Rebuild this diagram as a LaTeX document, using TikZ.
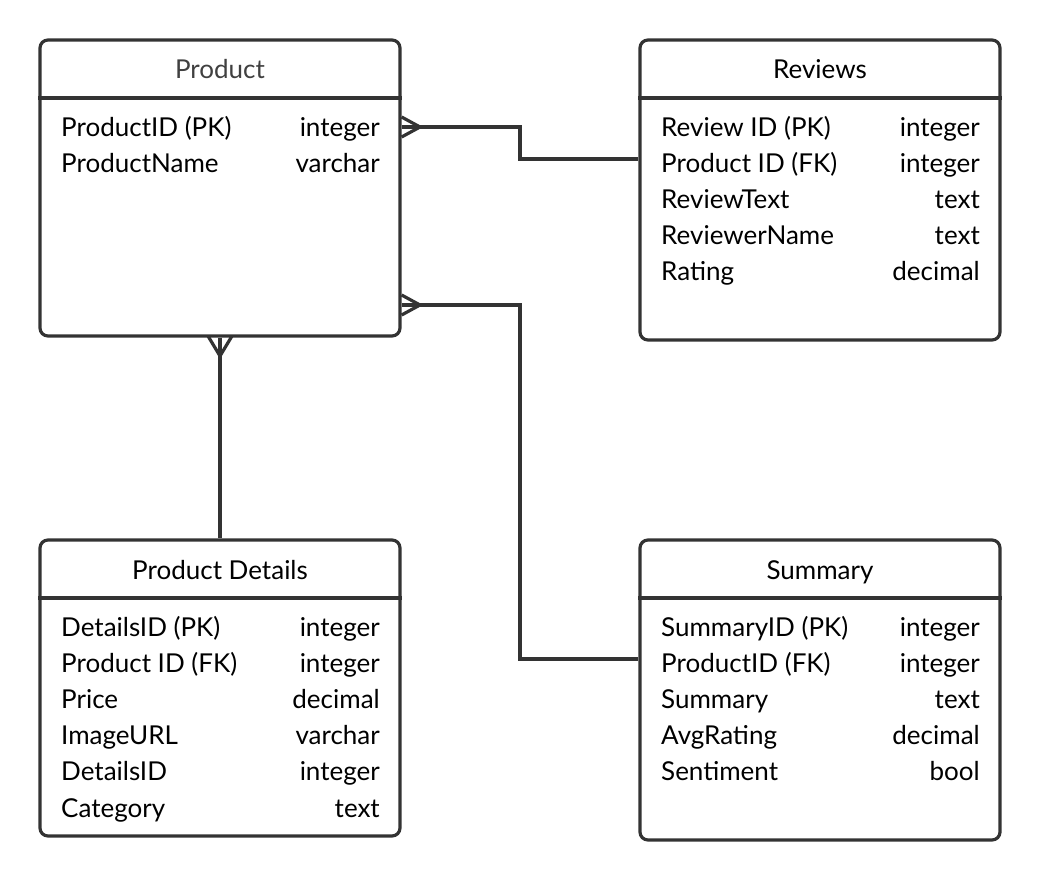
\documentclass[tikz,border=0pt]{standalone}
\usepackage{fontspec}
\setmainfont{Lato}
\definecolor{ln}{HTML}{333333}
\begin{document}
\begin{tikzpicture}[x=1pt,y=-1pt,
  ent/.style={draw=ln,line width=3.2pt,rounded corners=8pt,minimum width=360pt,inner sep=0pt},
  hdr/.style={draw=ln,line width=3.2pt},
  ttl/.style={anchor=base,font=\fontsize{26}{30}\selectfont,text=black,inner sep=0pt},
  lbl/.style={anchor=base west,font=\fontsize{26}{30}\selectfont,text=black,inner sep=0pt},
  typ/.style={anchor=base east,font=\fontsize{26}{30}\selectfont,text=black,inner sep=0pt},
  conn/.style={draw=ln,line width=3.2pt},
  crow/.style={draw=ln,line width=3.2pt}]
\useasboundingbox (0,0) rectangle (1040,880);
% entities
\node[ent,minimum height=296pt] (prod) at (220,188) {};
\node[ent,minimum height=300pt] (rev) at (820,190) {};
\node[ent,minimum height=296pt] (det) at (220,688) {};
\node[ent,minimum height=300pt] (sum) at (820,690) {};
\draw[hdr] (prod.west |- 0,98) -- (prod.east |- 0,98);
\draw[hdr] (rev.west |- 0,98) -- (rev.east |- 0,98);
\draw[hdr] (det.west |- 0,598) -- (det.east |- 0,598);
\draw[hdr] (sum.west |- 0,598) -- (sum.east |- 0,598);
% titles
\node[ttl,text=black!75] (tp) at (220,79) {Product};
\node[ttl] (tr) at (820,79) {Reviews};
\node[ttl] (td) at (220,579) {Product Details};
\node[ttl] (ts) at (820,579) {Summary};
% product rows
\node[lbl] (p1) at (61,136) {ProductID (PK)};
\node[typ] (p1t) at (380,136) {integer};
\node[lbl] (p2) at (61,172) {ProductName};
\node[typ] (p2t) at (380,172) {varchar};
% reviews rows
\node[lbl] (r1) at (661,136) {Review ID (PK)};
\node[typ] (r1t) at (980,136) {integer};
\node[lbl] (r2) at (661,172) {Product ID (FK)};
\node[typ] (r2t) at (980,172) {integer};
\node[lbl] (r3) at (661,208) {ReviewText};
\node[typ] (r3t) at (980,208) {text};
\node[lbl] (r4) at (661,244) {ReviewerName};
\node[typ] (r4t) at (980,244) {text};
\node[lbl] (r5) at (661,280) {Rating};
\node[typ] (r5t) at (980,280) {decimal};
% details rows
\node[lbl] (d1) at (61,636) {DetailsID (PK)};
\node[typ] (d1t) at (380,636) {integer};
\node[lbl] (d2) at (61,672) {Product ID (FK)};
\node[typ] (d2t) at (380,672) {integer};
\node[lbl] (d3) at (61,708) {Price};
\node[typ] (d3t) at (380,708) {decimal};
\node[lbl] (d4) at (61,744) {ImageURL};
\node[typ] (d4t) at (380,744) {varchar};
\node[lbl] (d5) at (61,780) {DetailsID};
\node[typ] (d5t) at (380,780) {integer};
\node[lbl] (d6) at (61,817) {Category};
\node[typ] (d6t) at (380,817) {text};
% summary rows
\node[lbl] (s1) at (661,636) {SummaryID (PK)};
\node[typ] (s1t) at (980,636) {integer};
\node[lbl] (s2) at (661,672) {ProductID (FK)};
\node[typ] (s2t) at (980,672) {integer};
\node[lbl] (s3) at (661,708) {Summary};
\node[typ] (s3t) at (980,708) {text};
\node[lbl] (s4) at (661,744) {AvgRating};
\node[typ] (s4t) at (980,744) {decimal};
\node[lbl] (s5) at (661,780) {Sentiment};
\node[typ] (s5t) at (980,780) {bool};
% connectors
\draw[conn] (prod.east |- 0,127) -- (520,127) -- (520,159) -- (rev.west |- 0,159);
\draw[crow] (prod.east |- 0,117) -- (420,127) -- (prod.east |- 0,137);
\draw[conn] (prod.east |- 0,305) -- (520,305) -- (520,659) -- (sum.west |- 0,659);
\draw[crow] (prod.east |- 0,295) -- (420,305) -- (prod.east |- 0,315);
\draw[conn] (prod.south) -- (det.north);
\draw[crow] (208,336) -- (220,356) -- (232,336);
\end{tikzpicture}
\end{document}
